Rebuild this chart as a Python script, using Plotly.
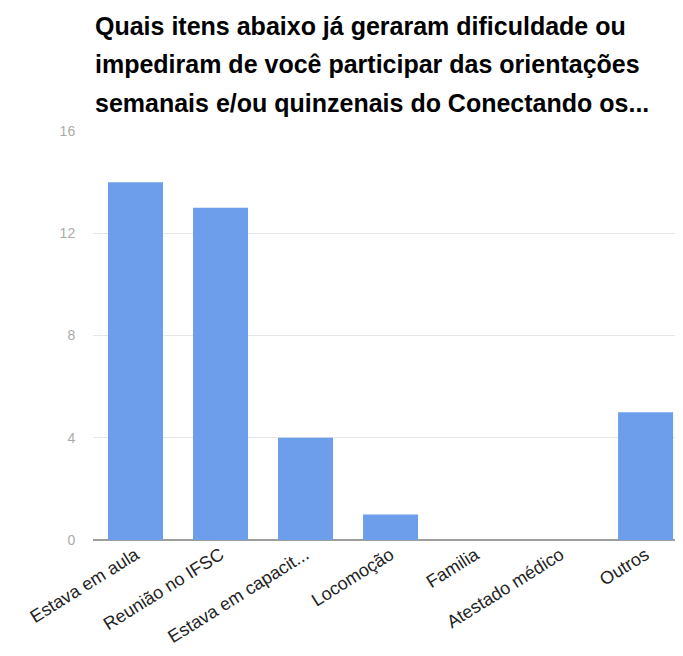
import plotly.graph_objects as go

categories = ["Estava em aula", "Reunião no IFSC", "Estava em capacit...", "Locomoção",
              "Familia", "Atestado médico", "Outros"]
values = [14, 13, 4, 1, 0, 0, 5]
y_ticks = [0, 4, 8, 12, 16]
title_lines = ["Quais itens abaixo já geraram dificuldade ou",
               "impediram de você participar das orientações",
               "semanais e/ou quinzenais do Conectando os..."]

fig = go.Figure(go.Bar(
    x=categories, y=values, marker=dict(color="#6d9eeb", line=dict(width=0)),
    width=0.647,
))

title_y = [1.2567, 1.1626, 1.0685]
for txt, yy in zip(title_lines, title_y):
    fig.add_annotation(text=f"<b>{txt}</b>", x=0, y=yy, xref="paper", yref="paper",
                       xanchor="left", yanchor="middle", showarrow=False,
                       font=dict(family="Liberation Sans, Arial", size=25, color="#000000"))

fig.update_layout(
    width=675, height=640,
    margin=dict(l=85, r=0, t=123, b=108),
    plot_bgcolor="white", paper_bgcolor="white",
    showlegend=False,
    font=dict(family="Liberation Sans, Arial"),
)
fig.update_xaxes(range=[-0.5, 6.44], tickangle=-32, showgrid=False, automargin=False,
                 tickfont=dict(size=18, color="#222222"), showline=False)
fig.update_yaxes(range=[0, 16], tickvals=y_ticks, showgrid=True, gridcolor="#e6e6e6",
                 gridwidth=1, zeroline=True, zerolinecolor="#9e9e9e", zerolinewidth=2,
                 tickfont=dict(size=14, color="#aaaaaa"), ticks="outside", ticklen=14,
                 tickcolor="rgba(0,0,0,0)", automargin=False)

fig.write_html("out.html")
